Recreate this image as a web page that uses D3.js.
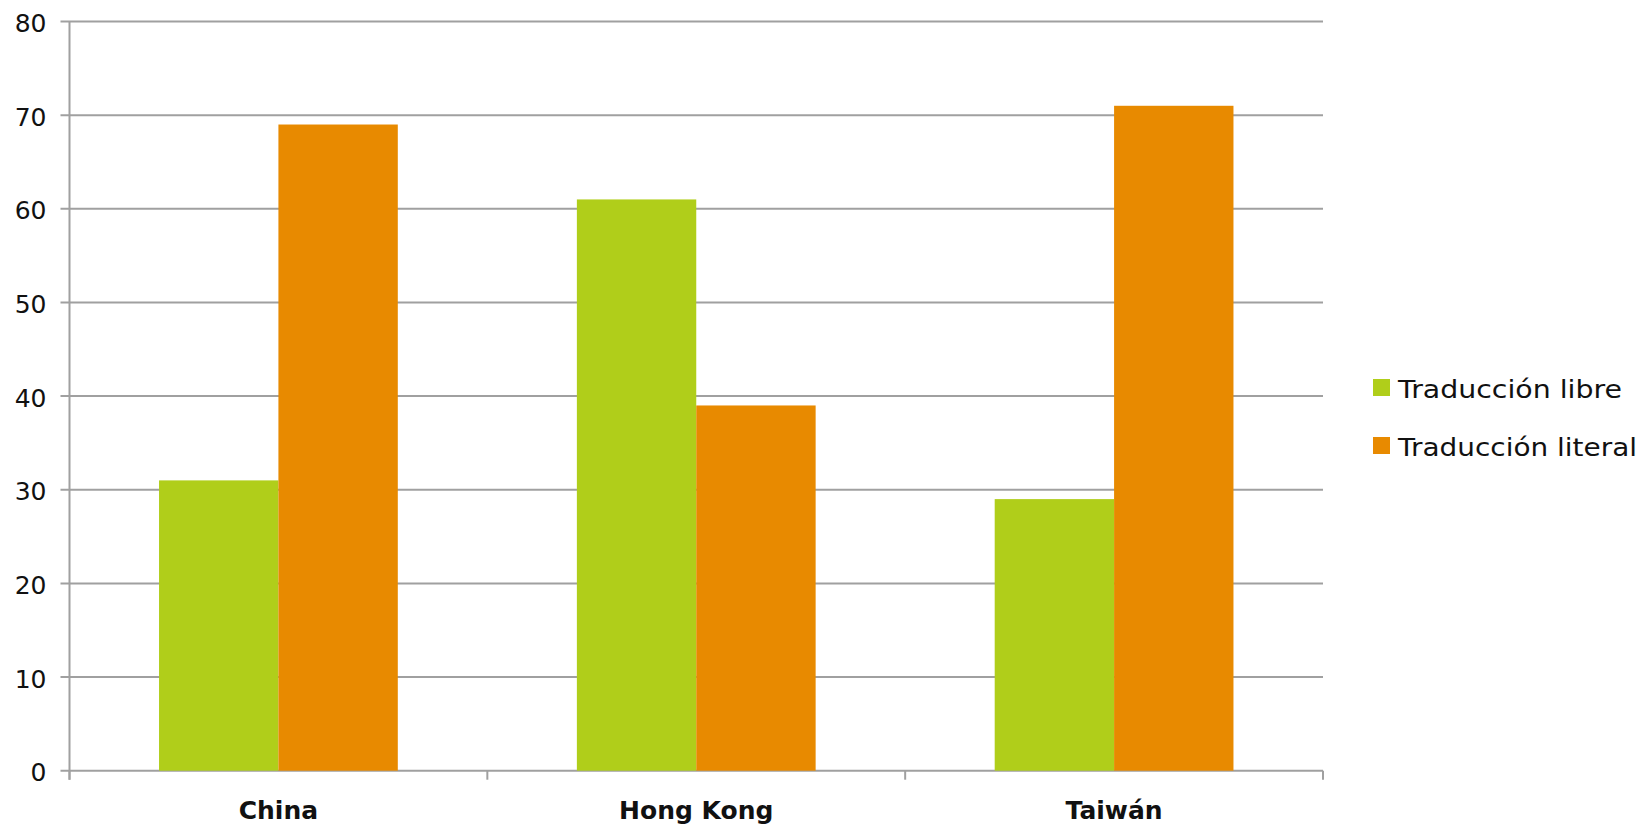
<!DOCTYPE html>
<html>
<head>
<meta charset="utf-8">
<script src="https://cdn.jsdelivr.net/npm/d3@7/dist/d3.min.js"></script>
<style>
  html, body { margin: 0; padding: 0; background: #fff; }
  svg { display: block; font-family: "DejaVu Sans", "Noto Sans", sans-serif; }
</style>
</head>
<body>
<svg id="chart" width="1643" height="827"></svg>
<script>
// Regions compared and the share of each translation style (%)
const categories = ["China", "Hong Kong", "Taiwán"];
const seriesNames = ["Traducción libre", "Traducción literal"];
const libre = [31, 61, 29];
const literal = [69, 39, 71];
const yTicks = [0, 10, 20, 30, 40, 50, 60, 70, 80];
const colors = ["#b0ce1a", "#e88a00"];

const svg = d3.select("#chart");
const margin = { left: 69.5, right: 1323, top: 21.5, bottom: 770.7 };

const x = d3.scaleBand()
  .domain(categories)
  .range([margin.left, margin.right])
  .paddingInner(0).paddingOuter(0);

const y = d3.scaleLinear()
  .domain([0, 80])
  .range([margin.bottom, margin.top]);

// Two bars per category, gap of 1.5 bar widths between groups
const barW = x.bandwidth() / 3.5;
const rows = categories.map((c, i) => ({ cat: c, vals: [libre[i], literal[i]] }));

const gridColor = "#a0a0a0";

// horizontal gridlines
svg.append("g")
  .selectAll("line")
  .data(yTicks)
  .join("line")
  .attr("x1", margin.left - 9)
  .attr("x2", margin.right)
  .attr("y1", d => y(d))
  .attr("y2", d => y(d))
  .attr("stroke", gridColor)
  .attr("stroke-width", 2);

// bars
const groups = svg.append("g")
  .selectAll("g")
  .data(rows)
  .join("g");

groups.selectAll("rect")
  .data(d => d.vals.map((v, k) => ({ cat: d.cat, v, k })))
  .join("rect")
  .attr("x", d => x(d.cat) + x.bandwidth() / 2 - barW + d.k * barW)
  .attr("width", barW)
  .attr("y", d => y(d.v))
  .attr("height", d => y(0) - y(d.v))
  .attr("fill", d => colors[d.k]);

// y axis
const yAxis = svg.append("g")
  .attr("transform", `translate(${margin.left},0)`)
  .call(d3.axisLeft(y).tickValues(yTicks).tickSize(0).tickPadding(23));
yAxis.select(".domain").remove();
yAxis.selectAll("text")
  .attr("font-size", 25)
  .attr("fill", "#111")
  .attr("font-family", "DejaVu Sans, sans-serif")
  .attr("dy", "0.4em");
svg.append("line")
  .attr("x1", margin.left).attr("x2", margin.left)
  .attr("y1", margin.top).attr("y2", margin.bottom + 9)
  .attr("stroke", gridColor).attr("stroke-width", 2);

// x axis: baseline with tick marks at group boundaries
const boundaries = categories.map(c => x(c)).concat([x.range()[1]]);
svg.append("g")
  .selectAll("line")
  .data(boundaries)
  .join("line")
  .attr("x1", d => d).attr("x2", d => d)
  .attr("y1", y(0)).attr("y2", y(0) + 9)
  .attr("stroke", gridColor).attr("stroke-width", 2);

svg.append("g")
  .selectAll("text")
  .data(categories)
  .join("text")
  .attr("x", d => x(d) + x.bandwidth() / 2)
  .attr("y", 819)
  .attr("text-anchor", "middle")
  .attr("font-size", 25)
  .attr("font-weight", "bold")
  .attr("fill", "#111")
  .text(d => d);

// legend
const legendWidths = [224, 239];
const legend = svg.append("g");
seriesNames.forEach((name, i) => {
  const ly = 379 + i * 58;
  legend.append("rect")
    .attr("x", 1373).attr("y", ly)
    .attr("width", 17).attr("height", 17)
    .attr("fill", colors[i]);
  legend.append("text")
    .attr("x", 1398).attr("y", ly + 19)
    .attr("font-size", 25)
    .attr("fill", "#111")
    .attr("textLength", legendWidths[i])
    .attr("lengthAdjust", "spacingAndGlyphs")
    .text(name);
});
</script>
</body>
</html>
